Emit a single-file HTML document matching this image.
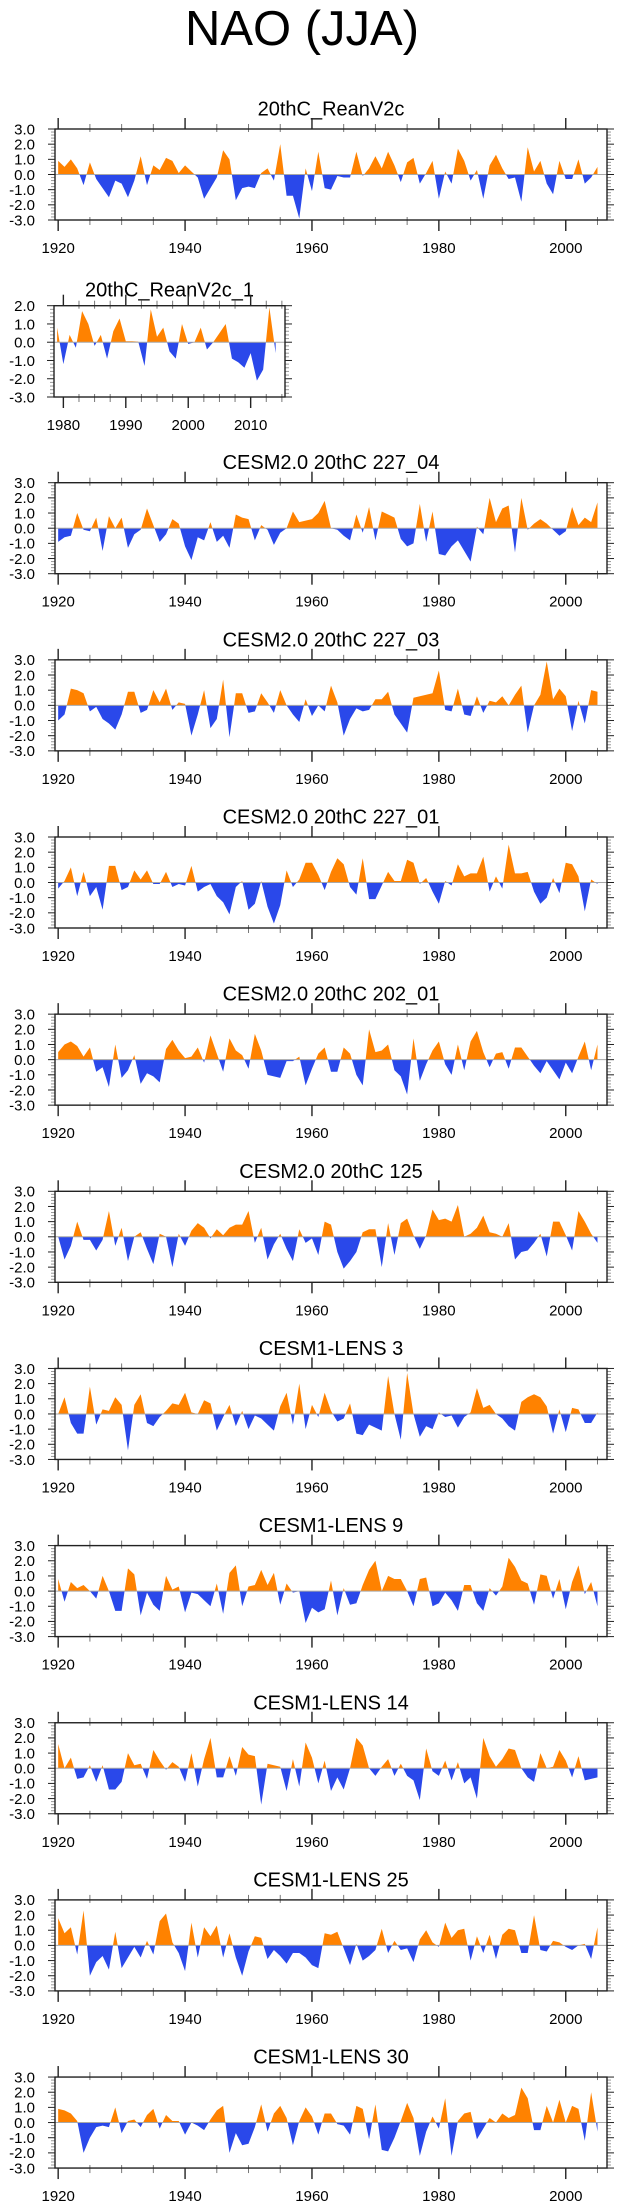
<!DOCTYPE html>
<html><head><meta charset="utf-8"><title>NAO (JJA)</title>
<style>
html,body{margin:0;padding:0;background:#fff;}
svg{display:block;font-family:"Liberation Sans",Arial,sans-serif;}
</style></head>
<body>
<svg id="chart" width="623" height="2209" viewBox="0 0 623 2209" xmlns="http://www.w3.org/2000/svg">
<text x="302" y="45" font-size="49" text-anchor="middle" fill="#000">NAO (JJA)</text>
</svg>
<script>
const panelTitles = ["20thC_ReanV2c","20thC_ReanV2c_1","CESM2.0 20thC 227_04","CESM2.0 20thC 227_03","CESM2.0 20thC 227_01","CESM2.0 20thC 202_01","CESM2.0 20thC 125","CESM1-LENS 3","CESM1-LENS 9","CESM1-LENS 14","CESM1-LENS 25","CESM1-LENS 30"];
const yearsLong = {start:1920, end:2005};
const yearsShort = {start:1979, end:2014};
const xTickLabelsLong = ["1920","1940","1960","1980","2000"];
const xTickLabelsShort = ["1980","1990","2000","2010"];
const yTickLabelsLong = ["3.0","2.0","1.0","0.0","-1.0","-2.0","-3.0"];
const yTickLabelsShort = ["2.0","1.0","0.0","-1.0","-2.0","-3.0"];

const s1 = [0.9,0.5,1.0,0.4,-0.7,0.8,-0.3,-0.9,-1.5,-0.4,-0.6,-1.5,-0.4,1.2,-0.7,0.6,0.3,1.1,0.9,0.1,0.6,0.2,-0.2,-1.6,-0.9,-0.2,1.6,1.0,-1.7,-0.9,-0.8,-0.9,0.1,0.4,-0.4,2.0,-1.4,-1.4,-2.9,0.4,-1.1,1.5,-0.9,-1.0,-0.1,-0.2,-0.2,1.5,-0.1,0.4,1.2,0.4,1.5,0.6,-0.5,0.8,1.1,-0.6,0.1,0.9,-1.6,0.2,-0.6,1.7,0.9,-0.4,0.3,-1.6,0.6,1.3,0.4,-0.3,-0.2,-1.8,1.8,0.2,0.9,-0.6,-1.3,0.9,-0.3,-0.3,1.0,-0.6,-0.2,0.5];
const s2 = [0.8,-1.2,0.4,-0.3,1.7,1.0,-0.2,0.4,-0.9,0.6,1.3,0.05,0.05,0.03,-1.3,1.8,0.3,0.8,-0.5,-0.9,1.0,-0.1,0.0,0.8,-0.4,0.0,0.5,1.0,-0.9,-1.1,-1.4,-0.6,-2.1,-1.5,1.9,-0.6];
const s3 = [-0.9,-0.6,-0.5,1.0,-0.1,-0.2,0.7,-1.5,0.8,0.0,0.7,-1.3,-0.4,-0.1,1.3,0.2,-0.9,-0.4,0.6,0.3,-1.2,-2.1,-0.6,-0.8,0.4,-0.9,-0.5,-1.3,0.9,0.7,0.6,-0.8,0.2,-0.1,-1.1,-0.3,0.0,1.1,0.4,0.5,0.6,1.0,1.8,0.0,-0.1,-0.5,-0.8,0.9,-0.3,1.4,-0.8,1.1,0.9,0.7,-0.7,-1.2,-1.0,1.6,-0.9,1.1,-1.7,-1.8,-1.2,-0.8,-1.5,-2.2,0.1,-0.4,2.0,0.4,1.3,1.5,-1.6,2.0,-0.1,0.3,0.6,0.3,-0.1,-0.5,-0.2,1.4,0.2,0.7,0.4,1.7];
const s4 = [-1.0,-0.6,1.1,1.0,0.8,-0.4,-0.1,-0.9,-1.2,-1.6,-0.6,0.9,0.9,-0.5,-0.3,1.0,0.2,1.1,-0.3,0.2,0.1,-2.0,-0.6,1.0,-1.5,-0.9,1.7,-2.1,0.8,0.8,-0.5,-0.4,0.8,0.2,-0.5,1.0,0.0,-0.6,-1.1,0.4,-0.7,0.0,-0.4,1.3,0.2,-2.0,-0.9,-0.2,-0.4,-0.3,0.4,0.4,0.9,-0.6,-1.2,-1.8,0.5,0.6,0.7,0.8,2.3,-0.3,-0.4,1.1,-0.6,-0.7,0.6,-0.5,0.3,0.2,0.6,0.0,0.7,1.3,-1.8,0.0,0.7,2.9,0.4,1.1,0.6,-1.7,0.3,-1.2,1.0,0.9];
const s5 = [-0.4,0.1,1.0,-0.9,0.7,-0.9,-0.3,-1.8,1.1,1.1,-0.5,-0.3,0.8,0.2,0.8,-0.1,-0.1,0.7,-0.3,-0.1,-0.2,1.1,-0.6,-0.3,-0.1,-0.9,-1.3,-2.1,-0.3,0.1,-1.8,-1.4,0.1,-1.6,-2.7,-1.5,0.8,-0.3,0.2,1.3,1.3,0.5,-0.5,0.7,1.6,1.2,-0.3,-0.8,1.6,-1.1,-1.1,-0.2,0.7,0.1,0.1,1.5,1.3,-0.1,0.3,-0.6,-1.4,0.1,-0.2,1.2,0.4,0.6,0.6,1.7,-0.6,0.4,-0.4,2.5,0.6,0.6,0.7,-0.6,-1.4,-1.0,0.3,-0.7,1.3,1.2,0.4,-1.9,0.2,-0.1];
const s6 = [0.5,1.0,1.2,0.9,0.2,0.8,-0.8,-0.5,-1.8,1.0,-1.2,-0.7,0.3,-1.6,-0.9,-1.1,-1.5,0.7,1.3,0.6,0.1,0.2,0.8,-0.2,1.6,0.4,-0.8,1.4,0.6,0.3,-0.6,1.7,0.6,-1.0,-1.1,-1.2,-0.1,-0.1,0.2,-1.7,-0.6,0.4,0.8,-0.8,-0.8,0.8,0.4,-1.0,-1.7,2.0,0.5,0.6,1.0,-0.7,-1.1,-2.3,1.4,-1.4,-0.3,0.6,1.2,-0.3,-1.0,1.0,-0.7,1.2,1.9,0.5,-0.5,0.4,0.5,-0.6,0.8,0.8,0.2,-0.4,-0.9,-0.1,-0.7,-1.3,-0.2,-0.9,0.2,1.2,-0.7,1.0];
const s7 = [0.0,-1.5,-0.6,1.0,-0.2,-0.2,-0.9,-0.2,1.7,-0.6,0.6,-1.6,0.0,0.3,-0.8,-1.8,0.2,0.0,-2.0,0.2,-0.6,0.4,0.9,0.6,-0.1,0.5,0.1,0.6,0.8,0.8,1.7,-0.4,0.6,-1.5,-0.5,0.2,-0.8,-1.6,0.5,-0.4,-0.1,-1.2,1.0,0.8,-1.0,-2.1,-1.6,-1.0,0.3,0.5,0.5,-2.0,0.9,-1.2,0.9,1.2,0.1,-0.8,0.1,1.8,1.1,1.2,1.0,2.1,0.0,0.2,0.6,1.4,0.3,0.2,0.0,0.9,-1.5,-1.0,-0.9,-0.4,0.2,-1.3,1.0,1.0,0.1,-0.9,1.7,1.0,0.2,-0.4];
const s8 = [0.0,1.1,-0.6,-1.3,-1.3,1.8,-0.7,0.3,0.2,1.1,0.6,-2.4,0.6,1.3,-0.6,-0.8,-0.2,0.2,0.7,0.6,1.4,0.1,0.0,0.9,0.7,-1.1,-0.2,0.6,-0.8,0.2,-1.0,-0.1,-0.3,-0.7,-1.1,0.5,1.4,-0.7,2.0,-1.0,0.6,-0.2,1.4,0.2,-0.5,-0.3,0.7,-1.3,-1.4,-0.7,-0.9,-1.1,2.5,0.0,-1.7,2.7,0.0,-1.5,-0.8,-1.0,0.1,-0.2,-0.1,-0.9,-0.2,0.1,1.7,0.4,0.6,0.0,-0.3,-0.8,-1.1,0.8,1.1,1.3,1.1,0.5,-1.3,0.3,-1.2,0.4,0.3,-0.6,-0.6,0.1];
const s9 = [0.8,-0.7,0.6,0.2,0.4,0.0,-0.5,1.0,0.0,-1.3,-1.3,1.5,1.1,-1.6,-0.1,-0.9,-1.3,1.0,0.1,0.3,-1.4,-0.1,-0.2,-0.6,-1.0,0.5,-1.5,1.2,1.7,-1.0,0.3,0.4,1.4,0.4,1.2,-0.9,0.5,-0.1,0.0,-2.1,-1.1,-1.4,-1.2,0.7,-1.6,0.2,-0.9,-0.8,0.4,1.4,2.0,0.0,1.0,0.8,0.8,0.0,-1.0,0.8,0.9,-1.0,-0.8,-0.1,-0.6,-1.3,0.4,0.4,-0.8,-1.3,0.2,-0.3,0.3,2.2,1.6,0.7,0.5,-0.9,1.1,1.0,-0.5,0.8,-1.2,0.6,1.7,-0.2,0.6,-1.0];
const s10 = [1.6,0.0,0.7,-0.7,-0.6,0.2,-0.9,0.2,-1.4,-1.4,-0.9,1.0,0.2,0.3,-0.7,1.2,0.5,-0.1,0.4,0.1,-0.9,1.0,-1.2,0.6,2.0,-0.6,-0.6,0.8,-0.5,1.4,0.9,0.8,-2.4,0.3,0.2,0.1,-1.5,0.6,-1.2,1.7,0.7,-1.0,0.5,-1.5,-0.6,-1.4,0.0,2.0,1.5,0.0,-0.5,0.1,0.6,-0.5,0.3,-0.5,-0.8,-2.1,1.3,-0.2,-0.5,0.5,-0.8,0.4,-1.0,-0.6,-2.0,2.0,0.8,0.1,0.6,1.3,1.2,0.0,-0.6,-0.9,1.0,0.0,0.1,1.2,0.5,-0.6,0.8,-0.8,-0.7,-0.6];
const s11 = [1.8,0.8,1.2,-0.6,2.3,-2.0,-1.1,-0.7,-1.6,0.9,-1.5,-0.8,-0.1,-0.8,0.3,-0.6,1.6,2.1,0.2,-0.5,-1.7,1.5,-0.8,1.2,0.6,1.3,-0.8,0.8,-0.8,-2.0,-0.4,0.6,0.5,-0.9,-0.3,-0.7,-1.2,-0.5,-0.5,-0.8,-1.3,-1.5,0.8,0.7,0.9,-0.2,-1.3,0.1,-1.0,-0.7,-0.3,1.1,-0.5,0.3,-0.3,-0.2,-1.1,0.4,1.0,0.2,-0.1,1.5,0.5,1.0,1.1,-1.0,0.6,-0.5,0.7,-0.9,0.7,1.1,1.0,-0.5,-0.5,2.0,-0.3,-0.4,0.3,0.2,-0.1,-0.3,0.0,0.1,-0.9,1.2];
const s12 = [0.9,0.8,0.6,0.1,-2.0,-1.0,-0.3,-0.2,-0.3,1.0,-0.7,0.1,0.2,-0.3,0.5,0.9,-0.4,0.5,0.1,0.1,-0.8,0.0,-0.2,-0.5,0.2,0.8,1.1,-2.0,-0.7,-1.5,-1.4,-0.3,1.2,-0.6,0.6,1.1,0.3,-1.5,0.1,1.0,0.4,-0.8,0.6,0.6,-0.1,-0.2,-0.8,1.1,0.9,-1.1,1.2,-1.8,-1.9,-1.0,0.1,1.3,0.3,-2.2,-0.6,0.4,-0.4,1.6,-2.2,0.1,0.6,0.7,-1.1,-0.4,0.3,0.0,0.6,0.3,0.5,2.3,1.6,-0.5,-0.5,1.1,0.0,1.5,0.0,1.1,0.9,-1.2,2.0,-0.6];

const seriesList = [s1,s2,s3,s4,s5,s6,s7,s8,s9,s10,s11,s12];
const NS = "http://www.w3.org/2000/svg";
const svg = document.getElementById('chart');

function mk(tag, attrs, parent){
  const e = document.createElementNS(NS, tag);
  for (const k in attrs) e.setAttribute(k, attrs[k]);
  parent.appendChild(e);
  return e;
}

function drawPanel(idx, cfg){
  const {x0,x1,top,h,dmin,dmax,vmin,vmax,start,xLabels,majorStep,minorStep,yLabels} = cfg;
  const data = seriesList[idx];
  const xs = yr => x0 + (yr - dmin) / (dmax - dmin) * (x1 - x0);
  const ys = v => top + (vmax - v) / (vmax - vmin) * h;
  const bottom = top + h;
  const g = mk('g', {}, svg);
  
  

  // title
  const t = mk('text', {x:(x0+x1)/2, y: idx===1 ? top-9 : top-13.5, 'font-size':20, 'text-anchor':'middle', fill:'#000'}, g);
  t.textContent = panelTitles[idx];
  
  

  // build points with zero crossings
  const pts = [];
  for (let i=0;i<data.length;i++){
    const yr = start + i, v = data[i];
    if (i>0){
      const pv = data[i-1];
      if ((pv>0 && v<0) || (pv<0 && v>0)){
        const f = pv/(pv - v);
        pts.push([yr-1+f, 0]);
      }
    }
    pts.push([yr, v]);
  }
  const firstYr = pts[0][0], lastYr = pts[pts.length-1][0];
  function poly(sign){
    let d = 'M' + xs(firstYr).toFixed(2) + ',' + ys(0).toFixed(2);
    for (const p of pts){
      const v = sign>0 ? Math.max(p[1],0) : Math.min(p[1],0);
      d += 'L' + xs(p[0]).toFixed(2) + ',' + ys(v).toFixed(2);
    }
    d += 'L' + xs(lastYr).toFixed(2) + ',' + ys(0).toFixed(2) + 'Z';
    return d;
  }
  const pos = mk('path', {d:poly(1), fill:'#ff8200', stroke:'none'}, g);
  
  
  const neg = mk('path', {d:poly(-1), fill:'#2a48ea', stroke:'none'}, g);
  
  

  const zl = mk('line', {x1:x0, x2:x1, y1:ys(0), y2:ys(0), stroke:'#a8a8a8', 'stroke-width':1}, g);
  
  

  // ticks
  const tk = mk('g', {stroke:'#222', 'stroke-width':1}, g);
  
  
  for (let v = vmin; v <= vmax + 1e-9; v += 0.2){
    const y = ys(v);
    const major = Math.abs(v - Math.round(v)) < 1e-6;
    const L = major ? 7 : 4;
    mk('line', {x1:x0-L, x2:x0, y1:y, y2:y, stroke: major?'#222':'#999'}, tk);
    mk('line', {x1:x1, x2:x1+L, y1:y, y2:y, stroke: major?'#222':'#999'}, tk);
  }
  const firstMajor = parseFloat(xLabels[0]);
  for (let yr = Math.ceil(dmin/minorStep)*minorStep; yr <= dmax; yr += minorStep){
    const x = xs(yr);
    const major = Math.abs(((yr - firstMajor) % majorStep + majorStep) % majorStep) < 1e-6;
    if (major){
      mk('line', {x1:x, x2:x, y1:top-11, y2:top, 'stroke-width':1.4}, tk);
      mk('line', {x1:x, x2:x, y1:bottom, y2:bottom+11, 'stroke-width':1.4}, tk);
    } else {
      mk('line', {x1:x, x2:x, y1:top-5, y2:top+3, stroke:'#777'}, tk);
      mk('line', {x1:x, x2:x, y1:bottom-3, y2:bottom+5, stroke:'#777'}, tk);
    }
  }

  const frame = mk('rect', {x:x0, y:top, width:x1-x0, height:h, fill:'none', stroke:'#222', 'stroke-width':1.4}, g);
  
  

  // y labels
  for (const lab of yLabels){
    const v = parseFloat(lab);
    const tt = mk('text', {x:35, y:ys(v)+5.3, 'font-size':15, 'text-anchor':'end', fill:'#000'}, g);
    tt.textContent = lab;
    
    
  }
  for (const lab of xLabels){
    const yr = parseFloat(lab);
    const tt = mk('text', {x:xs(yr), y:bottom+33, 'font-size':15, 'text-anchor':'middle', fill:'#000'}, g);
    tt.textContent = lab;
    
    
  }
}

const longCfg = (top) => ({x0:55, x1:607, top:top, h:91, dmin:1919.5, dmax:2006.5, vmin:-3, vmax:3, start:yearsLong.start, xLabels:xTickLabelsLong, majorStep:20, minorStep:5, yLabels:yTickLabelsLong});
drawPanel(0, longCfg(129));
drawPanel(1, {x0:54, x1:285, top:305.7, h:91.3, dmin:1978.5, dmax:2015.5, vmin:-3, vmax:2, start:yearsShort.start, xLabels:xTickLabelsShort, majorStep:10, minorStep:2.5, yLabels:yTickLabelsShort});
for (let k=0;k<10;k++){
  drawPanel(k+2, longCfg(482.7 + k*177.15));
}
</script>
</body></html>
